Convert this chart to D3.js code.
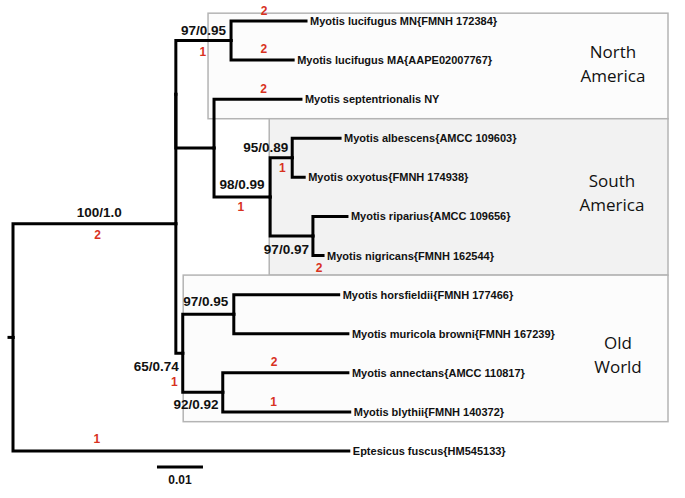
<!DOCTYPE html>
<meta charset="utf-8">
<style>
body { margin: 0; background: #fff; }
text { font-family: "Liberation Sans", Arial, Helvetica, sans-serif; }
.branch { fill: none; stroke: #000; stroke-width: 3; stroke-linecap: square; }
.tip { font-size: 11px; font-weight: bold; fill: #111; }
.support { font-size: 13.5px; font-weight: bold; fill: #111; }
.change { font-size: 12px; font-weight: bold; fill: #d8321f; }
.region { font-family: "Open Sans", sans-serif; font-size: 17px; fill: #111; }
</style>
<body>
<script src="https://d3js.org/d3.v7.min.js"></script>
<script>

var width = 685,
    height = 498;

// tree: node ids, parent ids, branch lengths (substitutions/site)
var nodeIds   = ["root", "ingroup", "AB", "A", "MN", "MA", "B", "sept", "C", "D", "alb", "oxy", "E", "rip", "nig",
                 "F", "G", "hors", "mur", "H", "ann", "bly", "Ept"];
var parentIds = ["", "root", "ingroup", "AB", "A", "A", "AB", "B", "B", "C", "D", "D", "C", "E", "E",
                 "ingroup", "F", "G", "G", "F", "H", "H", "root"];
var branchLengths = [0, 0.0354, 0, 0.0120, 0.0163, 0.0135, 0.0083, 0.0189, 0.0122, 0.0048, 0.0104, 0.0026, 0.0093, 0.0074, 0.0022,
                     0.0015, 0.0111, 0.0228, 0.0248, 0.0087, 0.0272, 0.0276, 0.0730];

var tipIds = ["MN", "MA", "sept", "alb", "oxy", "rip", "nig", "hors", "mur", "ann", "bly", "Ept"];
var tipLabels = [
  "Myotis lucifugus MN{FMNH 172384}",
  "Myotis lucifugus MA{AAPE02007767}",
  "Myotis septentrionalis NY",
  "Myotis albescens{AMCC 109603}",
  "Myotis oxyotus{FMNH 174938}",
  "Myotis riparius{AMCC 109656}",
  "Myotis nigricans{FMNH 162544}",
  "Myotis horsfieldii{FMNH 177466}",
  "Myotis muricola browni{FMNH 167239}",
  "Myotis annectans{AMCC 110817}",
  "Myotis blythii{FMNH 140372}",
  "Eptesicus fuscus{HM545133}"
];

// bootstrap / posterior support
var supportNodes  = ["ingroup", "A", "C", "D", "E", "F", "G", "H"];
var supportValues = ["100/1.0", "97/0.95", "98/0.99", "95/0.89", "97/0.97", "65/0.74", "97/0.95", "92/0.92"];

// red numbers on branches
var changeNodes  = ["MN", "MA", "sept", "A", "C", "D", "ingroup", "nig", "F", "ann", "bly", "Ept"];
var changeCounts = ["2", "2", "2", "1", "1", "1", "2", "2", "1", "2", "1", "1"];

// biogeographic regions
var regionNames = [["North", "America"], ["South", "America"], ["Old", "World"]];
var regionTips  = [[0, 2], [3, 6], [7, 10]];

var scaleBarValue = 0.01;

// ---- layout only ----
var supportPos = {
  ingroup: {f: 0.53, dy: -12, a: "middle"},
  A:       {f: 0.5,  dy: -10, a: "middle"},
  C:       {f: 0.5,  dy: -13, a: "middle"},
  D:       {end: -4, dy: -11, a: "end"},
  E:       {end: -4, dy: 13,  a: "end"},
  F:       {end: -4, dy: 13,  a: "end"},
  G:       {f: 0.45, dy: -13, a: "middle"},
  H:       {f: 0.33, dy: 12,  a: "middle"}
};
var changePos = {
  MN: {f: 0.44, dy: -10}, MA: {f: 0.53, dy: -11}, sept: {f: 0.57, dy: -11},
  A: {f: 0.49, dy: 11}, C: {f: 0.48, dy: 10}, D: {f: 0.55, dy: 10},
  ingroup: {f: 0.52, dy: 11}, nig: {f: 0.6, dy: 12}, F: {f: -0.2, dy: 28},
  ann: {f: 0.41, dy: -11}, bly: {f: 0.40, dy: -10}, Ept: {f: 0.25, dy: -12}
};
var regionBox = [  // [left (tree units), top tip idx, bottom tip idx, label center idx, label dx from right]
  [0.0424, -0.2, 2.5, 1.1, -55],
  [0.0557, 2.5, 6.5, 4.41, -56],
  [0.0370, 6.5, 10.25, 8.54, -50]
];

var svg = d3.select("body").append("svg")
    .attr("width", width)
    .attr("height", height);

var x = d3.scaleLinear().domain([0, 0.01]).range([13, 59]);
var y = d3.scaleLinear().domain([0, tipIds.length - 1]).range([21, 451]);
var boxRight = 668;

var table = nodeIds.map(function(id, i) {
  return {id: id, parent: parentIds[i], len: branchLengths[i]};
});
var root = d3.stratify()
    .id(function(d) { return d.id; })
    .parentId(function(d) { return d.parent || null; })(table);

root.eachBefore(function(n) {
  n.dist = n.parent ? n.parent.dist + n.data.len : 0;
});
root.eachAfter(function(n) {
  if (!n.children) n.yy = y(tipIds.indexOf(n.id));
  else n.yy = (n.children[0].yy + n.children[n.children.length - 1].yy) / 2;
});
var byId = {};
root.each(function(n) { byId[n.id] = n; });

// region boxes
var boxes = svg.append("g");
regionBox.forEach(function(b, i) {
  boxes.append("rect")
    .attr("x", x(b[0]))
    .attr("y", y(b[1]))
    .attr("width", boxRight - x(b[0]))
    .attr("height", y(b[2]) - y(b[1]))
    .style("fill", i == 1 ? "#f2f2f2" : "#fcfcfc")
    .style("stroke", "#b4b4b4")
    .style("stroke-width", 1.5);
  regionNames[i].forEach(function(t, j) {
    boxes.append("text")
      .attr("class", "region")
      .attr("x", boxRight + b[4])
      .attr("y", y(b[3]) + (j - 0.5) * 24)
      .attr("dy", "0.35em")
      .attr("text-anchor", "middle")
      .text(t);
  });
});

// branches
svg.append("g").selectAll("path")
    .data(root.descendants().filter(function(n) { return n.parent; }))
    .enter().append("path")
    .attr("class", "branch")
    .attr("d", function(n) {
      return "M" + x(n.parent.dist) + "," + n.parent.yy + "V" + n.yy + "H" + x(n.dist);
    });

// root stub
svg.append("line")
    .attr("class", "branch")
    .attr("x1", x(0) - 4).attr("x2", x(0))
    .attr("y1", root.yy).attr("y2", root.yy);

// tip labels
svg.append("g").selectAll("text")
    .data(tipIds)
    .enter().append("text")
    .attr("class", "tip")
    .attr("x", function(id) { return x(byId[id].dist) + 4; })
    .attr("y", function(id) { return byId[id].yy; })
    .attr("dy", "0.36em")
    .text(function(id, i) { return tipLabels[i]; });

function alongBranch(n, f) {
  return x(n.parent.dist) + f * (x(n.dist) - x(n.parent.dist));
}

// support values
svg.append("g").selectAll("text")
    .data(supportNodes)
    .enter().append("text")
    .attr("class", "support")
    .attr("x", function(id) {
      var p = supportPos[id], n = byId[id];
      return p.a == "end" ? x(n.dist) + p.end : alongBranch(n, p.f);
    })
    .attr("y", function(id) { return byId[id].yy + supportPos[id].dy; })
    .attr("dy", "0.36em")
    .attr("text-anchor", function(id) { return supportPos[id].a; })
    .text(function(id, i) { return supportValues[i]; });

// change counts
svg.append("g").selectAll("text")
    .data(changeNodes)
    .enter().append("text")
    .attr("class", "change")
    .attr("x", function(id) { return alongBranch(byId[id], changePos[id].f); })
    .attr("y", function(id) { return byId[id].yy + changePos[id].dy; })
    .attr("dy", "0.36em")
    .attr("text-anchor", "middle")
    .text(function(id, i) { return changeCounts[i]; });

// scale bar
var sb0 = 0.0313;
svg.append("line")
    .attr("x1", x(sb0)).attr("x2", x(sb0 + scaleBarValue))
    .attr("y1", 467).attr("y2", 467)
    .style("stroke", "#000").style("stroke-width", 3);
svg.append("text")
    .attr("class", "support")
    .style("font-size", "12px")
    .attr("x", x(sb0 + scaleBarValue / 2))
    .attr("y", 480)
    .attr("dy", "0.36em")
    .attr("text-anchor", "middle")
    .text(scaleBarValue);

</script>
